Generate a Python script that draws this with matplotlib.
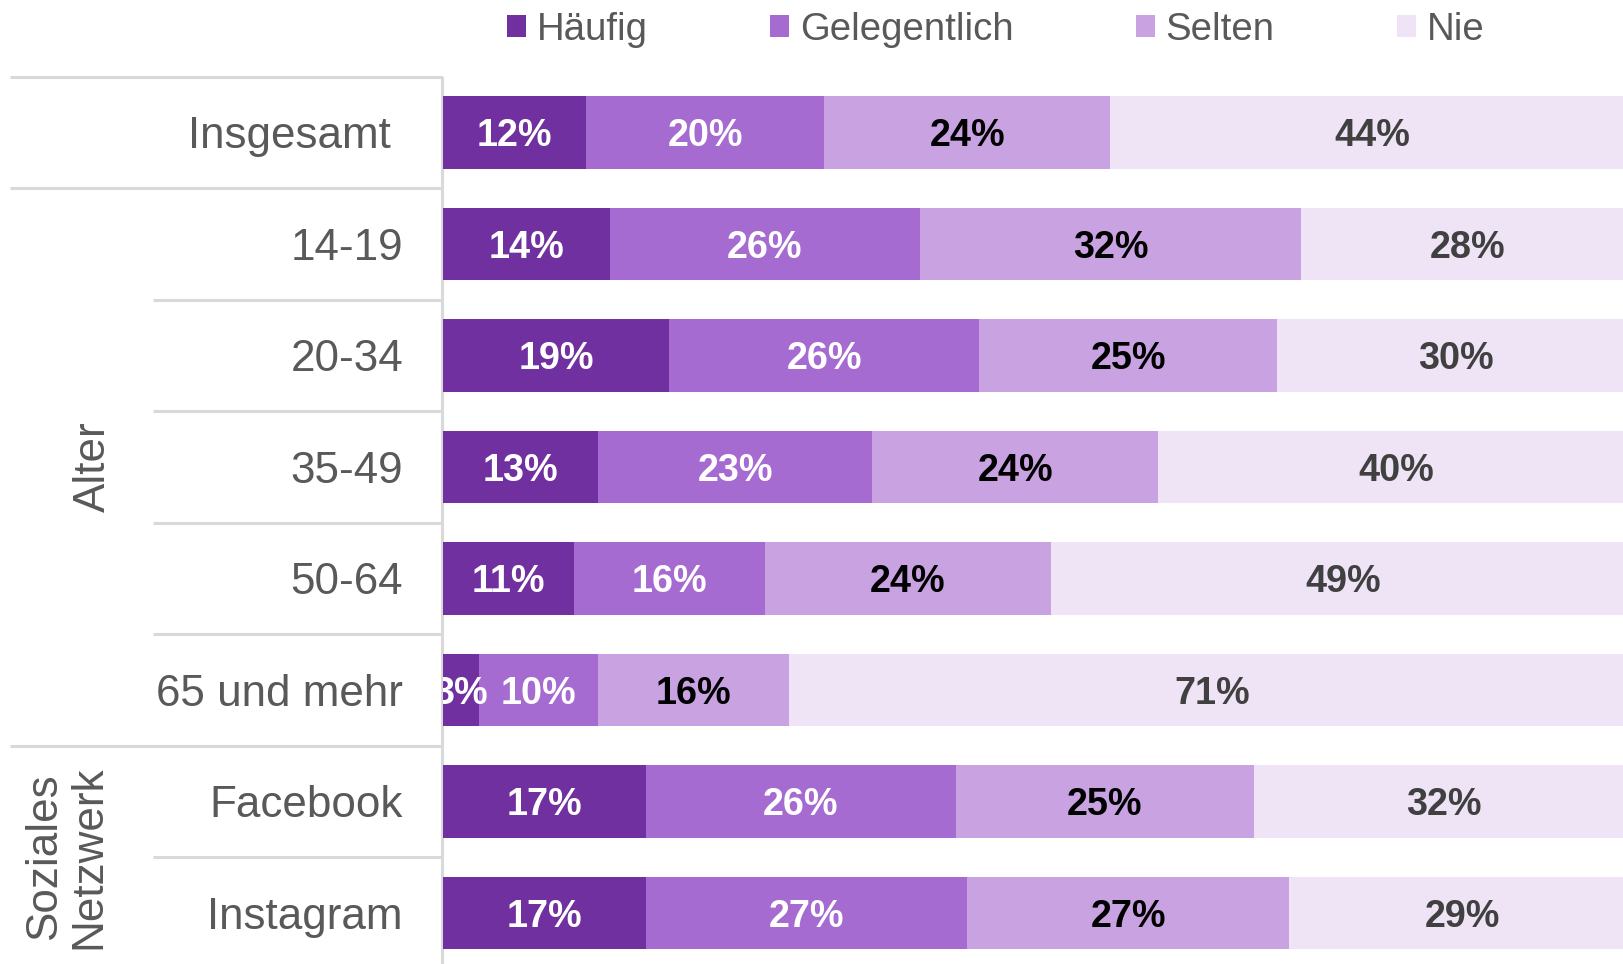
import numpy as np
import matplotlib.pyplot as plt
from matplotlib.transforms import offset_copy

plt.rcParams['font.family'] = ['Liberation Sans', 'DejaVu Sans']

# Daten
categories = ['Insgesamt', '14-19', '20-34', '35-49', '50-64', '65 und mehr', 'Facebook', 'Instagram']
row_group = ['', 'Alter', 'Alter', 'Alter', 'Alter', 'Alter', 'Soziales\nNetzwerk', 'Soziales\nNetzwerk']
haeufig = [12, 14, 19, 13, 11, 3, 17, 17]
gelegentlich = [20, 26, 26, 23, 16, 10, 26, 27]
selten = [24, 32, 25, 24, 24, 16, 25, 27]
nie = [44, 28, 30, 40, 49, 71, 32, 29]
series_names = ['Häufig', 'Gelegentlich', 'Selten', 'Nie']

colors = ['#7030a0', '#a66bd1', '#c9a2e2', '#efe3f6']
text_colors = ['white', 'white', 'black', '#404040']
grid_col = '#d9d9d9'
label_col = '#595959'

W, H = 1623, 964
fig = plt.figure(figsize=(W / 100, H / 100), dpi=100)

top = (H - 76.6) / H
split = 443 / W
ax_lab = fig.add_axes([0, 0, split, top])
ax = fig.add_axes([split, 0, 1 - split, top])

n = len(categories)
y = np.arange(n)
ylim = (-0.5 + 887.4 / 111.5, -0.5)

# gestapelte Balken
val_tr = offset_copy(ax.transData, fig=fig, y=-9.9, units='points')
left = np.zeros(n)
for vals, col, name, tcol in zip([haeufig, gelegentlich, selten, nie], colors, series_names, text_colors):
    vals = np.array(vals)
    ax.barh(y, vals, left=left, height=0.65, color=col, label=name, linewidth=0)
    for yi, l, v in zip(y, left, vals):
        ax.text(l + v / 2, yi, f'{v}%', ha='center', va='baseline', transform=val_tr,
                fontsize=27.2, fontweight='bold', color=tcol, clip_on=True)
    left += vals

ax.set_xlim(0, 99)
ax.set_ylim(*ylim)
ax.axis('off')

# linke Beschriftung mit Trennlinien
ax_lab.set_xlim(0, 443)
ax_lab.set_ylim(*ylim)
ax_lab.axis('off')

ax_lab.plot([10, 443], [-0.5, -0.5], color=grid_col, lw=2.2, solid_capstyle='butt', clip_on=False)
for k in range(1, n):
    x0 = 10 if row_group[k] != row_group[k - 1] else 153
    ax_lab.plot([x0, 443], [k - 0.5, k - 0.5], color=grid_col, lw=2.2, solid_capstyle='butt', clip_on=False)
ax_lab.plot([442, 442], [-0.5, ylim[0]], color=grid_col, lw=2.2, solid_capstyle='butt', clip_on=False)

cat_tr = offset_copy(ax_lab.transData, fig=fig, y=-11.3, units='points')
for yi, cat, grp in zip(y, categories, row_group):
    xr = 391 if grp == '' else 403
    ax_lab.text(xr, yi, cat, ha='right', va='baseline', transform=cat_tr,
                fontsize=31.7, color=label_col)

group_x = {'Alter': 93, 'Soziales\nNetzwerk': 67}
for grp in ['Alter', 'Soziales\nNetzwerk']:
    rows = [i for i, g in enumerate(row_group) if g == grp]
    ax_lab.text(group_x[grp], np.mean(rows), grp, rotation=90, ha='center', va='center',
                multialignment='center', linespacing=1.1, fontsize=31.7, color=label_col)

# Legende
handles, labels = ax.get_legend_handles_labels()
fig.legend(handles, labels, loc='center left', bbox_to_anchor=(507 / W, 1 - 30 / H), ncol=4,
           frameon=False, fontsize=27.6, handlelength=0.5, handleheight=0.5, handletextpad=0.27,
           columnspacing=3.2, borderpad=0, borderaxespad=0, labelcolor=label_col)

fig.savefig('out.png', dpi=100)
